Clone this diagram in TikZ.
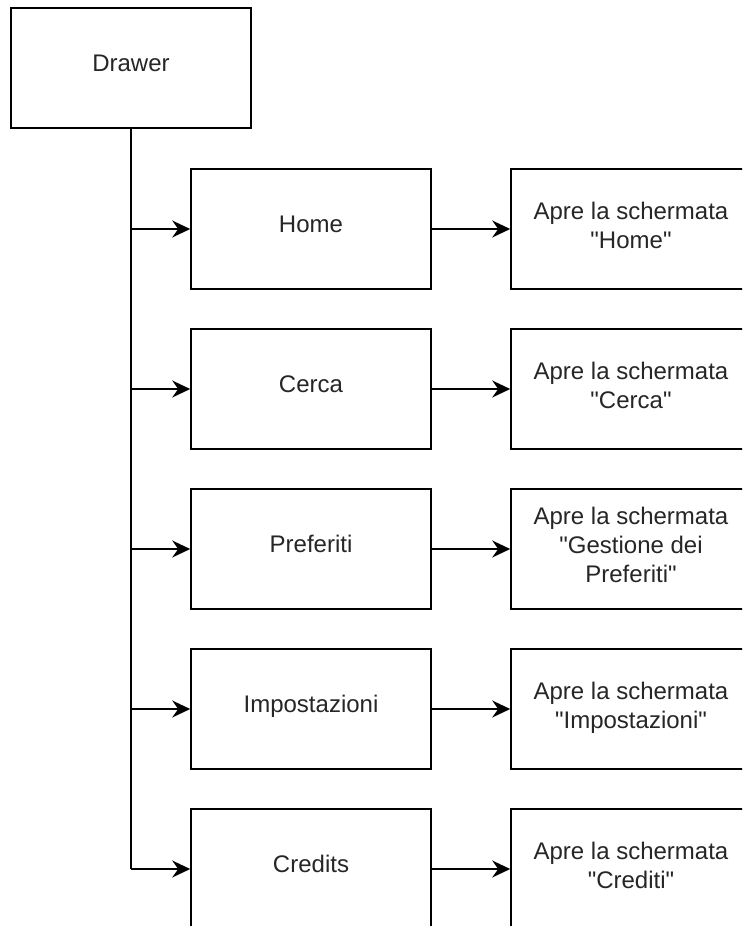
\documentclass[tikz,border=0pt]{standalone}
\usepackage{fontspec}
\setmainfont{Liberation Sans}
\usetikzlibrary{arrows.meta}
\newcommand\qq{\textquotedbl}
\newcommand\dn[1]{\rule[-#1]{0pt}{0pt}}
\tikzset{
  box/.style={draw, line width=1.6pt, minimum width=240pt, minimum height=120pt, inner sep=0pt, align=center, font=\fontsize{24}{28.8}\selectfont, text=black!85},
  single/.style={text height=17pt, text depth=10pt},
  conn/.style={line width=1.6pt},
  arr/.style={conn, -{Stealth[length=18pt,width=17pt,inset=6pt]}}
}
\begin{document}
\begin{tikzpicture}[x=1pt,y=-1pt]
\useasboundingbox (0,0) rectangle (742,926);
\clip (0,0) rectangle (742,926);
\fill[white] (0,0) rectangle (742,926);
\node[box,single] (drawer) at (131,68) {Drawer};
\node[box,single] (home) at (311,229) {Home};
\node[box,single] (cerca) at (311,389) {Cerca};
\node[box,single] (pref) at (311,549) {Preferiti};
\node[box,single] (imp) at (311,709) {Impostazioni};
\node[box,single] (cred) at (311,869) {Credits};
\node[box] (rhome) at (631,229) {Apre la schermata\\\qq Home\qq\dn{7pt}};
\node[box] (rcerca) at (631,389) {Apre la schermata\\\qq Cerca\qq\dn{7pt}};
\node[box] (rpref) at (631,549) {Apre la schermata\\\qq Gestione dei\\Preferiti\qq\dn{9pt}};
\node[box] (rimp) at (631,709) {Apre la schermata\\\qq Impostazioni\qq\dn{7pt}};
\node[box] (rcred) at (631,869) {Apre la schermata\\\qq Crediti\qq\dn{7pt}};
\draw[conn] (drawer.south) -- (drawer.south |- cred.west);
\foreach \n in {home,cerca,pref,imp,cred}
  \draw[arr] (drawer.south |- \n.west) -- (\n.west);
\draw[arr] (home) -- (rhome);
\draw[arr] (cerca) -- (rcerca);
\draw[arr] (pref) -- (rpref);
\draw[arr] (imp) -- (rimp);
\draw[arr] (cred) -- (rcred);
\end{tikzpicture}
\end{document}
